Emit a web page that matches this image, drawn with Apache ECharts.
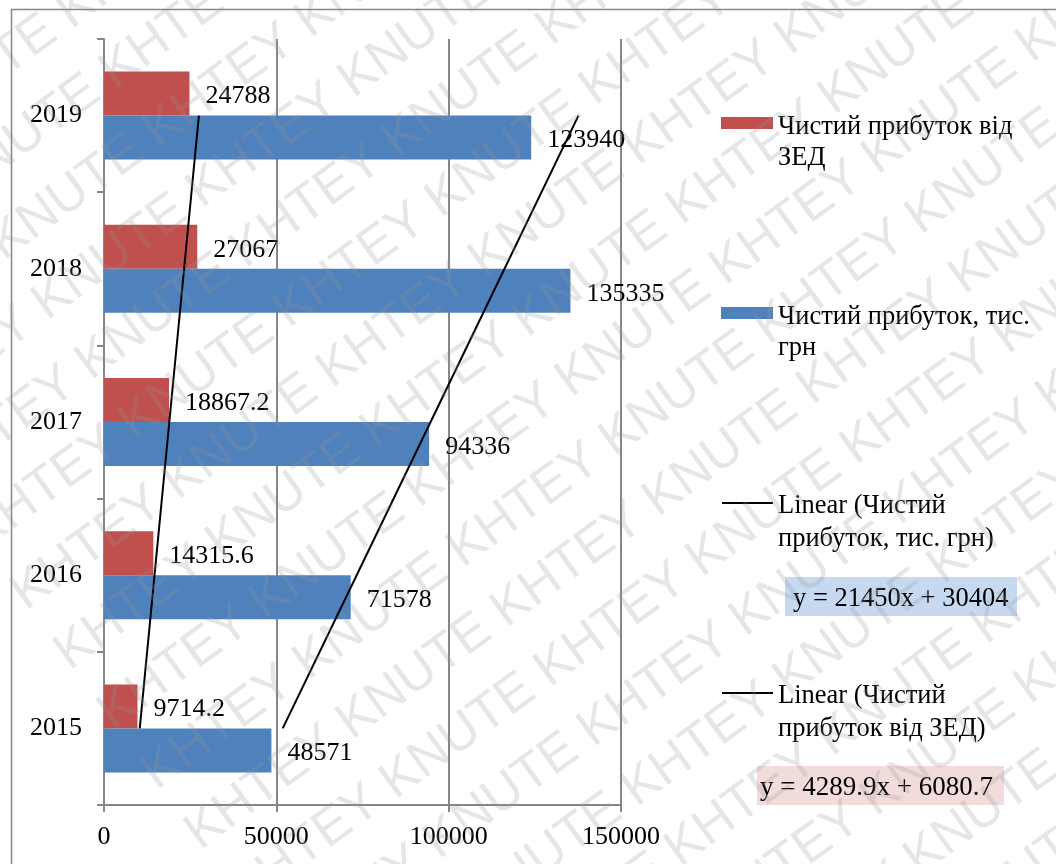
<!DOCTYPE html>
<html>
<head>
<meta charset="utf-8">
<script src="https://cdn.jsdelivr.net/npm/echarts@6/dist/echarts.min.js"></script>
<style>
html,body{margin:0;padding:0;background:#fff;}
#chart{width:1056px;height:864px;}
</style>
</head>
<body>
<div id="chart"></div>
<script>
// ---- data ----
var years = ['2015', '2016', '2017', '2018', '2019'];
var profitZed = [9714.2, 14315.6, 18867.2, 27067, 24788];      // Чистий прибуток від ЗЕД
var profitTotal = [48571, 71578, 94336, 135335, 123940];       // Чистий прибуток, тис. грн
var trendTotal = [51854, 73304, 94754, 116204, 137654];        // Linear (Чистий прибуток, тис. грн)
var trendZed = [10370.6, 14660.5, 18950.4, 23240.3, 27530.2];  // Linear (Чистий прибуток від ЗЕД)
var xTicks = [0, 50000, 100000, 150000];
var seriesNames = ['Чистий прибуток від ЗЕД', 'Чистий прибуток, тис. грн'];
var trendNames = ['Linear (Чистий прибуток, тис. грн)', 'Linear (Чистий прибуток від ЗЕД)'];
var equations = ['y = 21450x + 30404', 'y = 4289.9x + 6080.7'];

var FONT = '"Liberation Serif", "Times New Roman", serif';
var RED = '#C0504D', BLUE = '#4F81BD', GRAY = '#868686';
var LF = 26.5;

var chart = echarts.init(document.getElementById('chart'), null, {renderer: 'canvas'});

function txt(x, y, s, size) {
  return {type: 'text', x: x, y: y, z: 50,
    style: {text: s, fill: '#000', font: size + 'px ' + FONT, verticalAlign: 'middle', align: 'left'}};
}

var graphics = [
  // outer border
  {type: 'rect', shape: {x: 11.5, y: 9.5, width: 1100, height: 900}, style: {fill: 'none', stroke: GRAY, lineWidth: 1.5}, z: 1},
  // legend swatches
  {type: 'rect', shape: {x: 721, y: 117, width: 52, height: 12}, style: {fill: RED}, z: 50},
  {type: 'rect', shape: {x: 721, y: 307, width: 52, height: 12}, style: {fill: BLUE}, z: 50},
  {type: 'line', shape: {x1: 722, y1: 503, x2: 773, y2: 503}, style: {stroke: '#000', lineWidth: 2}, z: 50},
  {type: 'line', shape: {x1: 722, y1: 693, x2: 773, y2: 693}, style: {stroke: '#000', lineWidth: 2}, z: 50},
  // equation boxes
  {type: 'rect', shape: {x: 785, y: 577, width: 232, height: 39}, style: {fill: '#C6D9F1'}, z: 40},
  {type: 'rect', shape: {x: 757, y: 766, width: 247, height: 39}, style: {fill: '#F2DCDB'}, z: 40},
  txt(778, 127, 'Чистий прибуток від', LF),
  txt(778, 158, 'ЗЕД', LF),
  txt(778, 317, 'Чистий прибуток, тис.', LF),
  txt(778, 348, 'грн', LF),
  txt(778, 506, 'Linear (Чистий', LF),
  txt(778, 539, 'прибуток, тис. грн)', LF),
  txt(793, 599, equations[0], 26.5),
  txt(778, 696, 'Linear (Чистий', LF),
  txt(778, 729, 'прибуток від ЗЕД)', LF),
  txt(760, 788, equations[1], 27)
];

// watermark
var wmRows = [];
var ang = 36 * Math.PI / 180;
var rowStr = 'KHTEY KNUTE KHTEY KNUTE KHTEY KNUTE KHTEY KNUTE KHTEY KNUTE KHTEY KNUTE';
for (var i = -12; i < 22; i++) {
  var d = i * 74;
  wmRows.push({
    type: 'text', z: 200, silent: true,
    x: -200 + d * Math.sin(ang), y: 300 + d * Math.cos(ang),
    rotation: ang,
    style: {text: rowStr, fill: 'rgba(150,150,150,0.24)', font: '52px "Liberation Sans", sans-serif', verticalAlign: 'middle'}
  });
}
graphics = graphics.concat(wmRows);

var labelStyle = {show: true, position: 'right', distance: 16, offset: [0, 3], color: '#000', fontFamily: FONT, fontSize: 26};

chart.setOption({
  animation: false,
  backgroundColor: '#fff',
  grid: {left: 104, top: 39, width: 517, height: 766, containLabel: false},
  xAxis: {
    type: 'value', min: 0, max: 150000, interval: 50000,
    axisLine: {show: true, lineStyle: {color: GRAY, width: 2}},
    axisTick: {show: true, length: 7, lineStyle: {color: GRAY, width: 2}},
    splitLine: {show: true, lineStyle: {color: GRAY, width: 2}},
    axisLabel: {color: '#000', fontFamily: FONT, fontSize: 26, margin: 19,
      formatter: function (v) { return xTicks.indexOf(v) >= 0 ? String(v) : ''; }}
  },
  yAxis: {
    type: 'category', data: years,
    axisLine: {show: true, lineStyle: {color: GRAY, width: 2}},
    axisTick: {show: true, length: 7, lineStyle: {color: GRAY, width: 2}},
    axisLabel: {color: '#000', fontFamily: FONT, fontSize: 26, margin: 22, padding: [6, 0, 0, 0]}
  },
  series: [
    {name: seriesNames[0], type: 'bar', data: profitZed, barWidth: 44, barGap: '0%',
      itemStyle: {color: RED}, label: labelStyle, z: 2},
    {name: seriesNames[1], type: 'bar', data: profitTotal, barWidth: 44, barGap: '0%',
      itemStyle: {color: BLUE}, label: labelStyle, z: 2},
    {name: trendNames[0], type: 'line', data: trendTotal, symbol: 'none',
      lineStyle: {color: '#000', width: 2}, z: 5},
    {name: trendNames[1], type: 'line', data: trendZed, symbol: 'none',
      lineStyle: {color: '#000', width: 2}, z: 5}
  ],
  graphic: graphics
});
</script>
</body>
</html>
